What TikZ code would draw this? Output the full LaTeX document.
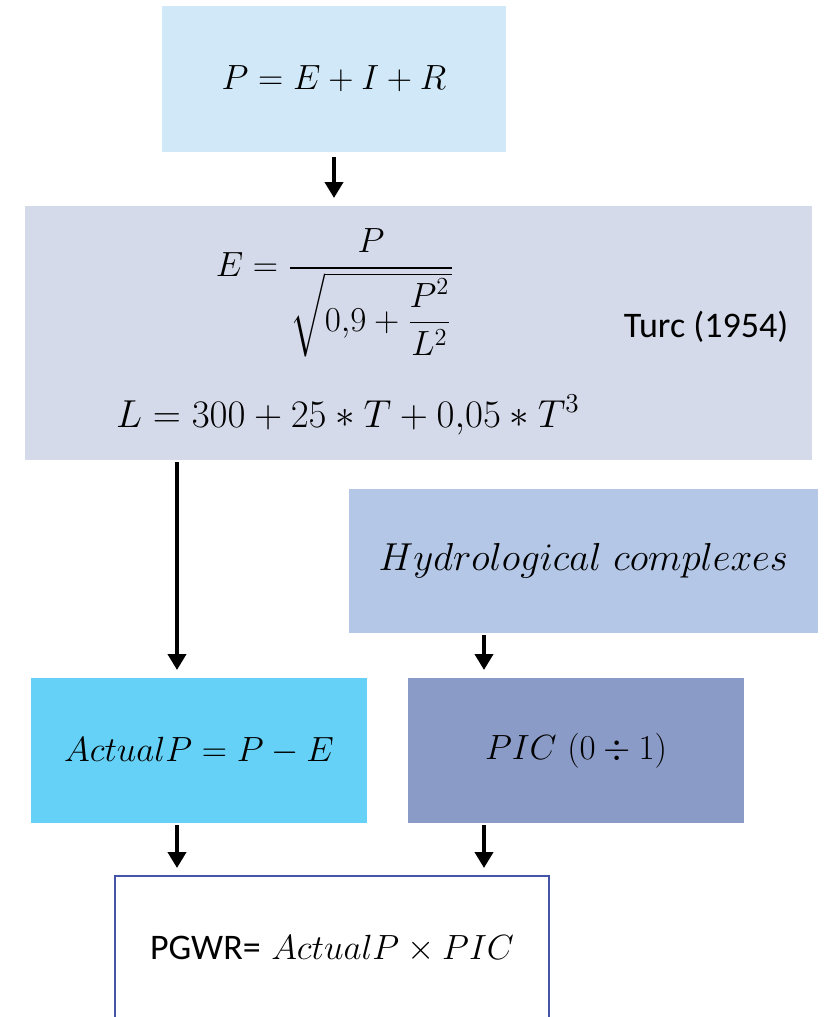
\RequirePackage{fix-cm}
\documentclass[tikz,border=0pt]{standalone}
\usepackage{amsmath}
\usepackage{fontspec}
\newfontfamily\calfont{Carlito}
\usetikzlibrary{arrows.meta,calc}
\definecolor{pgwrsky}{RGB}{208,232,247}
\definecolor{pgwrlav}{RGB}{213,218,234}
\definecolor{pgwrhyd}{RGB}{180,199,231}
\definecolor{pgwrcyan}{RGB}{102,209,246}
\definecolor{pgwrslate}{RGB}{139,155,199}
\definecolor{pgwrline}{RGB}{68,84,166}

\begin{document}
\begin{tikzpicture}[x=0.5pt, y=-0.5pt, >={Triangle[width=9pt,length=8pt]},
  every node/.style={font=\fontsize{17.5}{21}\selectfont},
  box/.style={inner sep=0pt, outer sep=0pt, align=center},
  flow/.style={->, line width=2.2pt, shorten <=1pt, shorten >=4pt}]
\clip (0,0) rectangle (828,1017);
\fill[white] (0,0) rectangle (828,1017);
% boxes
\node[box,fill=pgwrsky,minimum width=172pt,minimum height=73pt] (bal) at (334,79) {$P=E+I+R$};
\node[box,fill=pgwrlav,minimum width=393.5pt,minimum height=127pt] (turc) at (418.5,333) {};
\node[inner sep=0pt] (evap) at (335,293) {$\displaystyle E=\frac{P}{\sqrt{0{,}9+\dfrac{P^2}{L^2}}}$};
\node[inner sep=0pt,font=\calfont\fontsize{18}{22}\selectfont] (ref) at (706,327) {Turc (1954)};
\node[inner sep=0pt,font=\fontsize{19.5}{23}\selectfont] (lcoef) at (348,415) {$L=300+25*T+0{,}05*T^3$};
\node[box,fill=pgwrhyd,minimum width=234.5pt,minimum height=72pt,font=\fontsize{19.5}{23}\selectfont] (hyd) at (583.5,561) {$Hydrological\ complexes$};
\node[box,fill=pgwrcyan,minimum width=168pt,minimum height=72.5pt] (act) at (199,750.5) {$ActualP=P-E$};
\node[box,fill=pgwrslate,minimum width=168pt,minimum height=72.5pt] (pic) at (576,750.5) {$PIC\ (0\div 1)$};
\node[box,draw=pgwrline,line width=1pt,minimum width=217pt,minimum height=73pt] (pgwr) at (332,949)
  {{\calfont\fontsize{18}{22}\selectfont PGWR=} $ActualP\times PIC$};
% arrows
\coordinate (colL) at (177,0);
\coordinate (colR) at (484,0);
\draw[flow,shorten <=2.5pt] (bal.south) -- (bal.south |- turc.north);
\draw[flow] (turc.south -| colL) -- (act.north -| colL);
\draw[flow] (hyd.south -| colR) -- (pic.north -| colR);
\draw[flow] (act.south -| colL) -- (pgwr.north -| colL);
\draw[flow] (pic.south -| colR) -- (pgwr.north -| colR);
\end{tikzpicture}
\end{document}
